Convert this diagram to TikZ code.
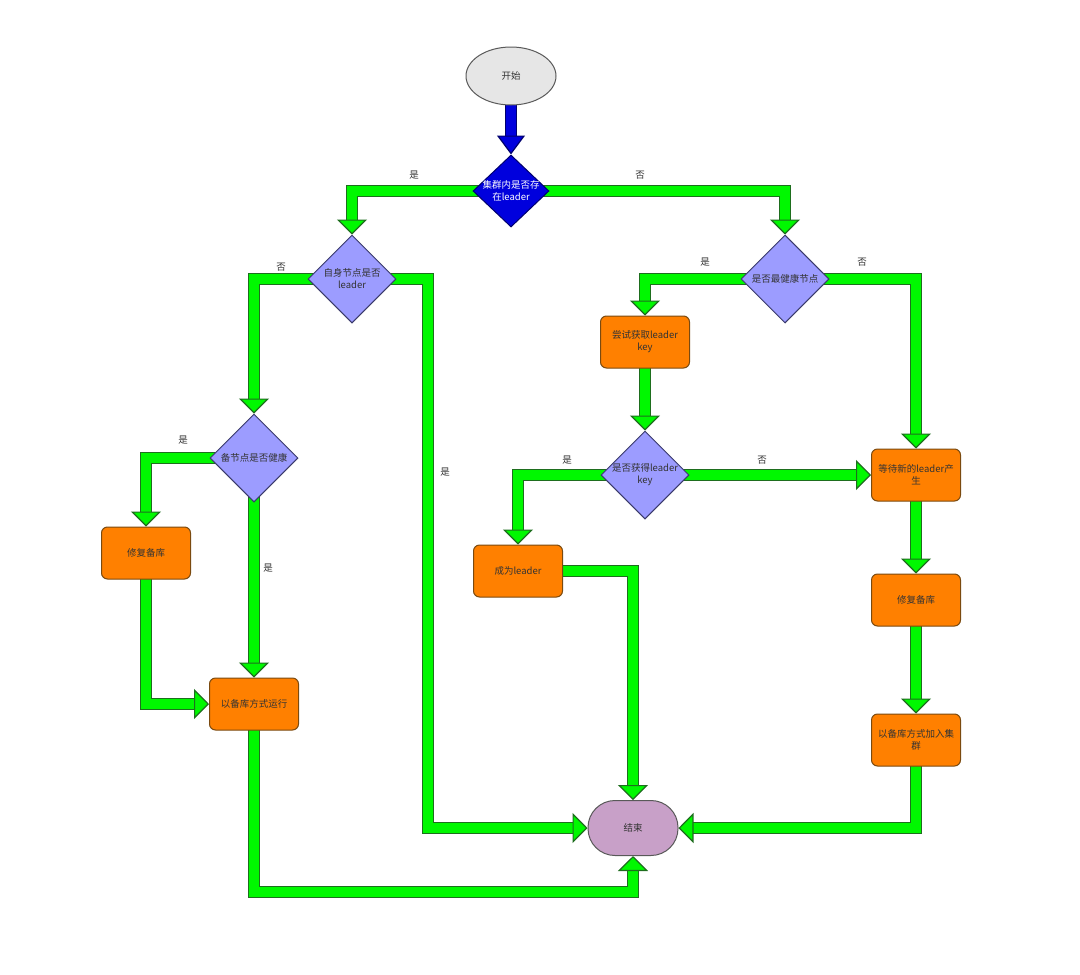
\documentclass[tikz,border=0pt]{standalone}
\usepackage{fontspec}
\setmainfont{Noto Sans CJK SC}
\usetikzlibrary{shapes.geometric,arrows.meta,backgrounds}
\definecolor{fg}{HTML}{00F800}
\definecolor{dg}{HTML}{1E6E1E}
\definecolor{bb}{HTML}{0000DD}
\definecolor{db}{HTML}{00006E}
\definecolor{orf}{HTML}{FF8000}
\definecolor{ord}{HTML}{7A4A10}
\definecolor{dpf}{HTML}{9C9CFF}
\definecolor{dpd}{HTML}{3A3A6A}
\definecolor{stf}{HTML}{E6E6E6}
\definecolor{enf}{HTML}{C8A0C8}
\definecolor{txt}{HTML}{333333}
\newcommand\gflow[1]{\draw[gout] #1; \draw[gin] #1;}
\begin{document}
\begin{tikzpicture}[x=1pt,y=-1pt,
  font=\fontsize{9.5}{12}\selectfont,
  dia/.style={diamond,draw=dpd,fill=dpf,line width=1pt,minimum width=88pt,minimum height=88pt,inner sep=0pt},
  dtext/.style={text=txt,align=center,inner sep=0pt},
  box/.style={rectangle,rounded corners=6pt,draw=ord,fill=orf,line width=1pt,minimum width=89pt,minimum height=52pt,text=txt,align=center,inner sep=2pt},
  lab/.style={text=txt,inner sep=0pt},
  gout/.style={draw=dg,line width=12.5pt,shorten >=10pt},
  gin/.style={draw=fg,line width=10pt,-{Triangle[length=15pt,width=30pt,fill=fg,color=dg,line width=1.2pt]}},
  bout/.style={draw=db,line width=12.5pt,shorten >=10pt},
  bin/.style={draw=bb,line width=10pt,-{Triangle[length=19pt,width=28pt,fill=bb,color=db,line width=1.2pt]}}
]
\useasboundingbox (0,0) rectangle (1080,975);

% nodes
\node[ellipse,draw=black!65,fill=stf,line width=1pt,minimum width=90pt,minimum height=58pt,text=txt] (start) at (511,76) {开始};

\node[diamond,draw=db,fill=bb,line width=1pt,minimum width=76pt,minimum height=72pt,inner sep=0pt] (d1) at (511,191) {};
\node[dtext,text=white] (d1t) at (511,191) {集群内是否存\\在leader};

\node[dia] (d2) at (352,279) {};
\node[dtext] (d2t) at (352,279) {自身节点是否\\leader};

\node[dia] (d3) at (785,279) {};
\node[dtext] (d3t) at (785,279) {是否最健康节点};

\node[box] (try) at (645,342) {尝试获取leader\\key};

\node[dia] (d4) at (645,475) {};
\node[dtext] (d4t) at (645,475) {是否获得leader\\key};

\node[box] (wait) at (916,475) {等待新的leader产\\生};
\node[box] (lead) at (518,571) {成为leader};
\node[box] (rep2) at (916,600) {修复备库};
\node[box] (join) at (916,740) {以备库方式加入集\\群};

\node[dia] (d5) at (254,458) {};
\node[dtext] (d5t) at (254,458) {备节点是否健康};

\node[box] (rep1) at (146,553) {修复备库};
\node[box] (run) at (254,704) {以备库方式运行};

\node[rectangle,rounded corners=27pt,draw=black!65,fill=enf,line width=1pt,minimum width=90pt,minimum height=55pt,text=txt] (end) at (633,828) {结束};

\coordinate (k1) at (428,828);

% connectors
\begin{scope}[on background layer]
\fill[white] (0,0) rectangle (1080,975);
\draw[bout] (start.center) -- (d1.north);
\draw[bin] (start.center) -- (d1.north);
\gflow{(d1.center) -| (d2.north)}
\gflow{(d1.center) -| (d3.north)}
\gflow{(d2.center) -| (d5.north)}
\gflow{(d2.center) -| (k1) -- (end.west)}
\gflow{(d3.center) -| (try.north)}
\gflow{(d3.center) -| (wait.north)}
\gflow{(try.center) -- (d4.north)}
\gflow{(d4.center) -| (lead.north)}
\gflow{(d4.center) -- (wait.west)}
\gflow{(lead.center) -| (end.north)}
\gflow{(wait.center) -- (rep2.north)}
\gflow{(rep2.center) -- (join.north)}
\gflow{(join.center) |- (end.east)}
\gflow{(d5.center) -| (rep1.north)}
\gflow{(d5.center) -- (run.north)}
\gflow{(rep1.center) |- (run.west)}
\gflow{(run.center) -- ++(0,188) -| (end.south)}
\end{scope}

% labels
\node[lab] (l1) at (414,175) {是};
\node[lab] (l2) at (640,175) {否};
\node[lab] (l3) at (281,267) {否};
\node[lab] (l4) at (705,262) {是};
\node[lab] (l5) at (862,262) {否};
\node[lab] (l6) at (183,440) {是};
\node[lab] (l7) at (567,460) {是};
\node[lab] (l8) at (762,460) {否};
\node[lab] (l9) at (445,472) {是};
\node[lab] (l10) at (268,568) {是};
\end{tikzpicture}
\end{document}
